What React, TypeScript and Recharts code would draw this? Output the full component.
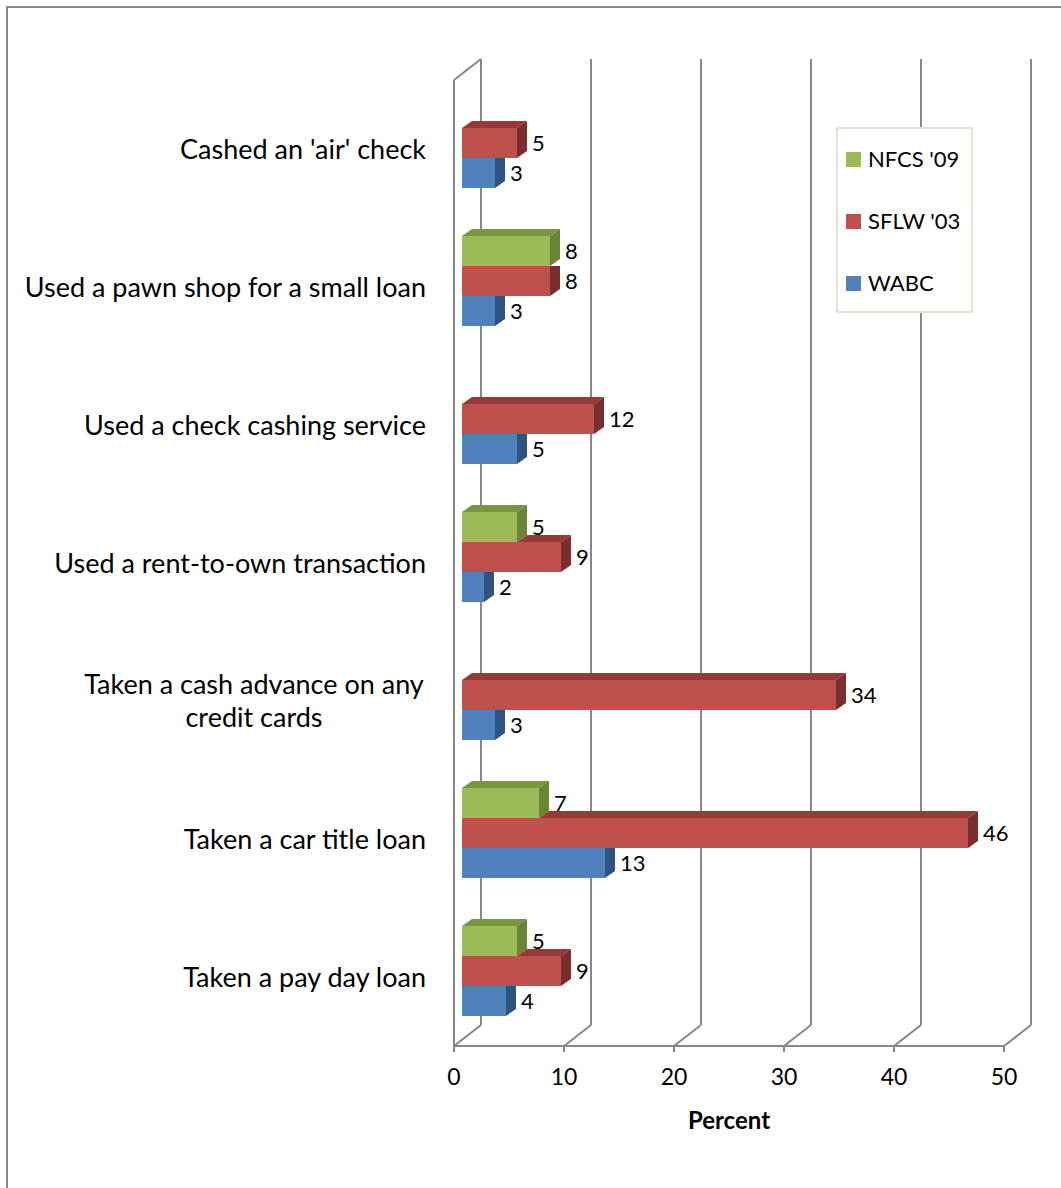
import React from 'react';
import { BarChart, Bar, XAxis, YAxis, CartesianGrid, LabelList } from 'recharts';

const categories = [
  "Cashed an 'air' check",
  'Used a pawn shop for a small loan',
  'Used a check cashing service',
  'Used a rent-to-own transaction',
  'Taken a cash advance on any\ncredit cards',
  'Taken a car title loan',
  'Taken a pay day loan',
];
const nfcs09: (number | null)[] = [null, 8, null, 5, null, 7, 5];
const sflw03: (number | null)[] = [5, 8, 12, 9, 34, 46, 9];
const wabc: (number | null)[] = [3, 3, 5, 2, 3, 13, 4];
const seriesNames = ["NFCS '09", "SFLW '03", 'WABC'];
const xTicks = [0, 10, 20, 30, 40, 50];
const xTitle = 'Percent';

const data = categories.map((category, i) => ({
  category,
  nfcs: nfcs09[i],
  sflw: sflw03[i],
  wabc: wabc[i],
}));

const FONT = 'Lato, "Open Sans", "DejaVu Sans", sans-serif';
const W = 1061;
const H = 1188;
const PLOT_LEFT = 454;
const PLOT_TOP = 80;
const PLOT_RIGHT = 1004;
const PLOT_BOTTOM = 1046;
const X_AXIS_H = 100;
const WALL_DX = 27;
const WALL_DY = 21;
const BAR_SX = 8;
const BAR_SY = 6;
const BAR_DX = 10;
const BAR_DY = 7;
const GRID = '#878787';

type Series = { key: string; name: string; front: string; top: string; side: string; upper: string | null };
const SERIES: Series[] = [
  { key: 'nfcs', name: seriesNames[0], front: '#9bbb59', top: '#789540', side: '#6a8434', upper: null },
  { key: 'sflw', name: seriesNames[1], front: '#c0504d', top: '#963a38', side: '#7c2e2c', upper: 'nfcs' },
  { key: 'wabc', name: seriesNames[2], front: '#4f81bd', top: '#3c6697', side: '#2f5381', upper: 'sflw' },
];

function makeShape(s: Series) {
  return (props: any) => {
    const { x, y, width, height, payload } = props;
    const v = payload ? payload[s.key] : null;
    if (v == null || !(width > 0)) return <g />;
    const fx = x + BAR_SX;
    const fy = y - BAR_SY;
    const ex = fx + width;
    const by = fy + height;
    const up = s.upper ? payload[s.upper] : null;
    const upW = up != null ? (width * up) / v : 0;
    const tx0 = fx + Math.min(upW, width);
    const sidePts =
      upW >= width
        ? `${ex},${fy} ${ex + BAR_DX},${fy} ${ex + BAR_DX},${by - BAR_DY} ${ex},${by}`
        : `${ex},${fy} ${ex + BAR_DX},${fy - BAR_DY} ${ex + BAR_DX},${by - BAR_DY} ${ex},${by}`;
    return (
      <g>
        {tx0 < ex && (
          <polygon
            points={`${tx0},${fy} ${tx0 + BAR_DX},${fy - BAR_DY} ${ex + BAR_DX},${fy - BAR_DY} ${ex},${fy}`}
            fill={s.top}
          />
        )}
        <polygon points={sidePts} fill={s.side} />
        <rect x={fx} y={fy} width={width} height={height} fill={s.front} />
      </g>
    );
  };
}

const renderLabel = (props: any) => {
  const { x, y, width, height, value } = props;
  if (value == null) return null;
  return (
    <text
      x={x + width + BAR_SX + BAR_DX + 5}
      y={y - BAR_SY + height / 2}
      dy="0.36em"
      fontSize={22}
      fontFamily={FONT}
      fill="#000"
    >
      {value}
    </text>
  );
};

const renderGridLine = (props: any) => {
  const { x1, y1, y2, index } = props;
  return (
    <g key={`gl-${index}`} stroke={GRID} strokeWidth={2} fill="none">
      <line x1={x1 + WALL_DX} y1={y1 - WALL_DY} x2={x1 + WALL_DX} y2={y2 - WALL_DY} />
      <line x1={x1} y1={y2} x2={x1 + WALL_DX} y2={y2 - WALL_DY} />
      {index === 0 && (
        <>
          <line x1={x1} y1={y1} x2={x1} y2={y2} />
          <line x1={x1} y1={y1} x2={x1 + WALL_DX} y2={y1 - WALL_DY} />
        </>
      )}
    </g>
  );
};

const CAT_FS = 27;

const CategoryTick = (props: any) => {
  const { y, payload } = props;
  const lines = String(payload.value).split('\n');
  if (lines.length === 1) {
    return (
      <text x={PLOT_LEFT - 28} y={y} dy="0.36em" textAnchor="end" fontSize={CAT_FS} fontFamily={FONT} fill="#000">
        {lines[0]}
      </text>
    );
  }
  const lh = 33;
  const cx = 254;
  return (
    <text x={cx} y={y - ((lines.length - 1) * lh) / 2} textAnchor="middle" fontSize={CAT_FS} fontFamily={FONT} fill="#000">
      {lines.map((l, i) => (
        <tspan key={i} x={cx} dy={i === 0 ? '0.36em' : lh}>
          {l}
        </tspan>
      ))}
    </text>
  );
};

const ValueTick = (props: any) => {
  const { x, y, payload } = props;
  return (
    <text x={x} y={y + 33} textAnchor="middle" fontSize={23} fontFamily={FONT} fill="#000">
      {payload.value}
    </text>
  );
};

const XTitle = (props: any) => {
  const vb = props.viewBox || {};
  return (
    <text
      x={vb.x + vb.width / 2}
      y={vb.y + 83}
      textAnchor="middle"
      fontSize={24}
      fontWeight="bold"
      fontFamily={FONT}
      fill="#000"
    >
      {xTitle}
    </text>
  );
};

const legendRows = [159, 221, 283];

export default function App() {
  return (
    <div style={{ position: 'absolute', left: 0, top: 0, width: W, height: H, background: '#fff', fontFamily: FONT, overflow: 'hidden' }}>
      <div
        style={{
          position: 'absolute',
          left: 6,
          top: 6,
          width: W,
          height: H,
          borderTop: '2px solid #8a8a8a',
          borderLeft: '2px solid #8a8a8a',
        }}
      />
      <div style={{ position: 'absolute', left: 0, top: 0 }}>
        <BarChart
          width={W}
          height={H}
          data={data}
          layout="vertical"
          margin={{ top: PLOT_TOP, right: W - PLOT_RIGHT, bottom: H - PLOT_BOTTOM - X_AXIS_H, left: 0 }}
          barCategoryGap={24}
          barGap={0}
        >
          <CartesianGrid horizontal={false} vertical={renderGridLine} />
          <XAxis
            type="number"
            domain={[0, 50]}
            ticks={xTicks}
            interval={0}
            height={X_AXIS_H}
            axisLine={{ stroke: GRID, strokeWidth: 2 }}
            tickLine={{ stroke: GRID, strokeWidth: 2 }}
            tickSize={6}
            tickMargin={0}
            tick={<ValueTick />}
            label={<XTitle />}
          />
          <YAxis
            type="category"
            dataKey="category"
            width={PLOT_LEFT}
            axisLine={false}
            tickLine={false}
            interval={0}
            tick={<CategoryTick />}
          />
          {SERIES.map((s) => (
            <Bar key={s.key} dataKey={s.key} name={s.name} fill={s.front} isAnimationActive={false} shape={makeShape(s)}>
              <LabelList dataKey={s.key} content={renderLabel} />
            </Bar>
          ))}
        </BarChart>
      </div>
      <div
        style={{
          position: 'absolute',
          left: 836,
          top: 127,
          width: 137,
          height: 186,
          boxSizing: 'border-box',
          border: '2px solid #e6e2d6',
          background: '#fff',
        }}
      />
      {SERIES.map((s, i) => (
        <div key={s.key} style={{ position: 'absolute', left: 846, top: legendRows[i] - 12, height: 24, display: 'flex', alignItems: 'center' }}>
          <div style={{ width: 15, height: 15, background: s.front, marginRight: 7 }} />
          <span style={{ fontSize: 22, color: '#000', lineHeight: '24px' }}>{s.name}</span>
        </div>
      ))}
    </div>
  );
}
